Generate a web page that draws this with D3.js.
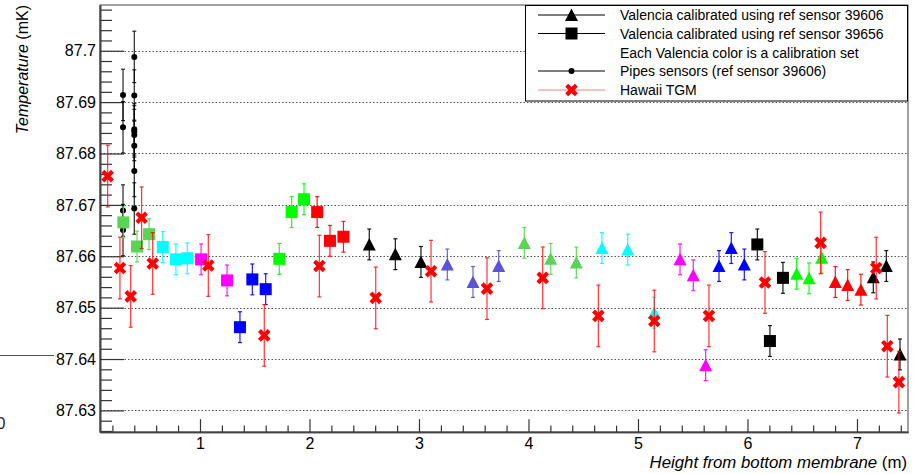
<!DOCTYPE html>
<html>
<head>
<meta charset="utf-8">
<script src="https://cdn.jsdelivr.net/npm/d3@7"></script>
<style>
  html, body { margin: 0; padding: 0; background: #fff; }
  svg { display: block; font-family: "Liberation Sans", Arial, Helvetica, sans-serif; }
</style>
</head>
<body>
<svg id="chart" width="917" height="474"></svg>
<script>
// ---------------- DATA ----------------
// ROOT colour indices used for each calibration set
const rootColors = {1: "#000000", 2: "#ff0000", 3: "#00ff00", 4: "#0000ff", 6: "#ff00ff", 7: "#00ffff", 8: "#59d454", 9: "#5954d8"};

// Valencia calibrated using ref sensor 39656 (squares)
const sqX = [0.30, 0.425, 0.535, 0.66, 0.78, 0.884, 1.01, 1.247, 1.365, 1.478, 1.60, 1.724, 1.837, 1.95, 2.07, 2.187, 2.31, 6.09, 6.205, 6.324];
const sqT = [87.6666, 87.6619, 87.6643, 87.6618, 87.6594, 87.6596, 87.6594, 87.6553, 87.6462, 87.6555, 87.6536, 87.6595, 87.6686, 87.6711, 87.6686, 87.6630, 87.6638, 87.6623, 87.6435, 87.6558];
const sqErr = [0.003, 0.003, 0.003, 0.003, 0.003, 0.003, 0.003, 0.003, 0.003, 0.003, 0.003, 0.003, 0.003, 0.003, 0.003, 0.003, 0.003, 0.003, 0.003, 0.003];
const sqCol = [8, 8, 8, 7, 7, 7, 6, 6, 4, 4, 4, 3, 3, 3, 2, 2, 2, 1, 1, 1];

// Valencia calibrated using ref sensor 39606 (triangles)
const triX = [2.546, 2.784, 3.018, 3.259, 3.493, 3.728, 3.962, 4.203, 4.437, 4.671, 4.906, 5.149, 5.384, 5.505, 5.618, 5.74, 5.852, 5.971, 6.449, 6.562, 6.678, 6.802, 6.915, 7.036, 7.149, 7.268, 7.393];
const triT = [87.6623, 87.6604, 87.6589, 87.6584, 87.6550, 87.6581, 87.6626, 87.6595, 87.6588, 87.6616, 87.6613, 87.6490, 87.6594, 87.6563, 87.6388, 87.6581, 87.6616, 87.6584, 87.6566, 87.6557, 87.6597, 87.6550, 87.6544, 87.6535, 87.6559, 87.6581, 87.6409];
const triErr = [0.003, 0.003, 0.003, 0.003, 0.003, 0.003, 0.003, 0.003, 0.003, 0.003, 0.003, 0.003, 0.003, 0.003, 0.003, 0.003, 0.003, 0.003, 0.003, 0.003, 0.003, 0.003, 0.003, 0.003, 0.003, 0.003, 0.003];
const triCol = [1, 1, 1, 9, 9, 9, 8, 8, 8, 7, 7, 7, 6, 6, 6, 4, 4, 4, 3, 3, 3, 2, 2, 2, 1, 1, 1];

// Pipes sensors (ref sensor 39606)
const pipeX = [0.297, 0.297, 0.297, 0.297, 0.40, 0.40, 0.40, 0.40, 0.40, 0.40, 0.40, 0.40];
const pipeT = [87.6914, 87.6851, 87.6689, 87.6651, 87.6988, 87.6913, 87.6847, 87.6843, 87.6836, 87.6815, 87.6766, 87.6693];
const pipeErr = [0.005, 0.005, 0.005, 0.005, 0.005, 0.005, 0.005, 0.005, 0.005, 0.005, 0.005, 0.005];

// Hawaii TGM
const hawX = [0.157, 0.269, 0.367, 0.467, 0.568, 1.076, 1.587, 2.09, 2.605, 3.11, 3.621, 4.13, 4.638, 5.149, 5.648, 6.16, 6.668, 7.176, 7.277, 7.383];
const hawT = [87.6756, 87.6577, 87.6522, 87.6675, 87.6586, 87.6582, 87.6446, 87.6581, 87.6519, 87.6571, 87.6537, 87.6558, 87.6484, 87.6474, 87.6484, 87.6549, 87.6626, 87.6577, 87.6425, 87.6355];
const hawErr = [0.006, 0.006, 0.006, 0.006, 0.006, 0.006, 0.006, 0.006, 0.006, 0.006, 0.006, 0.006, 0.006, 0.006, 0.006, 0.006, 0.006, 0.006, 0.006, 0.006];

// Axes
const xDomain = [0.0868, 7.466];
const yDomain = [87.6258, 87.7089];
const xTickValues = [1, 2, 3, 4, 5, 6, 7];
const xTickLabels = ["1", "2", "3", "4", "5", "6", "7"];
const yTickValues = [87.63, 87.64, 87.65, 87.66, 87.67, 87.68, 87.69, 87.70];
const yTickLabels = ["87.63", "87.64", "87.65", "87.66", "87.67", "87.68", "87.69", "87.7"];

const legendLabels = [
  "Valencia calibrated using ref sensor 39606",
  "Valencia calibrated using ref sensor 39656",
  "Each Valencia color is a calibration set",
  "Pipes sensors (ref sensor 39606)",
  "Hawaii TGM"
];

// ---------------- DRAW ----------------
const svg = d3.select("#chart");
const L = 100, R = 908, T = 5, B = 432;
const x = d3.scaleLinear().domain(xDomain).range([L, R]);
const y = d3.scaleLinear().domain(yDomain).range([B, T]);

svg.append("rect").attr("width", 917).attr("height", 474).attr("fill", "#fff");

// odd artefacts at the far left of the reference
svg.append("line").attr("x1", 0).attr("x2", 54).attr("y1", 355.5).attr("y2", 355.5)
  .attr("stroke", "#555").attr("stroke-width", 1.2);
svg.append("text").attr("x", 5.5).attr("y", 429).attr("text-anchor", "end")
  .attr("font-size", 16).attr("fill", "#222").text("0");

// grid (dotted, at major y ticks)
svg.append("g").selectAll("line").data(yTickValues).join("line")
  .attr("x1", L).attr("x2", R)
  .attr("y1", d => Math.round(y(d)) + 0.5).attr("y2", d => Math.round(y(d)) + 0.5)
  .attr("stroke", "#555").attr("stroke-width", 1).attr("stroke-dasharray", "1.5,2");

// frame
svg.append("rect").attr("x", L).attr("y", T).attr("width", R - L).attr("height", B - T)
  .attr("fill", "none").attr("stroke", "#444").attr("stroke-width", 1);

// minor ticks
const yMinor = d3.range(87.626, 87.7089, 0.002).filter(v => !yTickValues.some(t => Math.abs(t - v) < 1e-6));
const xMinor = d3.range(0.2, 7.45, 0.2).filter(v => Math.abs(v - Math.round(v)) > 1e-6);

function styleAxis(g) {
  g.selectAll(".domain").attr("stroke", "#444").attr("stroke-width", 1.6);
  g.selectAll(".tick line").attr("stroke", "#333").attr("stroke-width", 1.2);
  g.selectAll("text").attr("fill", "#000").attr("font-size", 16)
    .attr("font-family", "'Liberation Sans', Arial, Helvetica, sans-serif");
}

svg.append("g").attr("transform", `translate(${L},0)`)
  .call(d3.axisLeft(y).tickValues(yMinor).tickFormat("").tickSizeInner(-12).tickSizeOuter(0))
  .call(styleAxis);
svg.append("g").attr("transform", `translate(${L},0)`)
  .call(d3.axisLeft(y).tickValues(yTickValues).tickFormat((d, i) => yTickLabels[i]).tickSizeInner(-24).tickSizeOuter(0).tickPadding(4))
  .call(styleAxis);

svg.append("g").attr("transform", `translate(0,${B})`)
  .call(d3.axisBottom(x).tickValues(xMinor).tickFormat("").tickSizeInner(-6.4).tickSizeOuter(0))
  .call(styleAxis);
svg.append("g").attr("transform", `translate(0,${B})`)
  .call(d3.axisBottom(x).tickValues(xTickValues).tickFormat((d, i) => xTickLabels[i]).tickSizeInner(-12.8).tickSizeOuter(0).tickPadding(6))
  .call(styleAxis);

// axis titles
const yt = svg.append("text").attr("transform", "translate(28,5) rotate(-90)")
  .attr("text-anchor", "end").attr("font-size", 16).attr("fill", "#000");
yt.append("tspan").attr("font-style", "italic").text("Temperature");
yt.append("tspan").text(" (mK)");

const xt = svg.append("text").attr("x", 907).attr("y", 468)
  .attr("text-anchor", "end").attr("font-size", 16.8).attr("fill", "#000");
xt.append("tspan").attr("font-style", "italic").text("Height from bottom membrane");
xt.append("tspan").text(" (m)");

// ---- error bars helper
function errorBars(g, xs, ts, es, colorFn, opacity) {
  const idx = d3.range(xs.length);
  const eb = g.append("g").attr("stroke-opacity", opacity);
  eb.selectAll("line.v").data(idx).join("line").attr("class", "v")
    .attr("x1", i => x(xs[i])).attr("x2", i => x(xs[i]))
    .attr("y1", i => y(ts[i] - es[i])).attr("y2", i => y(ts[i] + es[i]))
    .attr("stroke", colorFn).attr("stroke-width", 1.2);
  [-1, 1].forEach(s => {
    eb.selectAll("line.c" + (s > 0 ? "p" : "m")).data(idx).join("line").attr("class", "c" + (s > 0 ? "p" : "m"))
      .attr("x1", i => x(xs[i]) - 2).attr("x2", i => x(xs[i]) + 2)
      .attr("y1", i => y(ts[i] + s * es[i])).attr("y2", i => y(ts[i] + s * es[i]))
      .attr("stroke", colorFn).attr("stroke-width", 1.2);
  });
}

const dataG = svg.append("g");

// pipes
errorBars(dataG, pipeX, pipeT, pipeErr, () => "#000", 0.85);
dataG.append("g").selectAll("circle").data(d3.range(pipeX.length)).join("circle")
  .attr("cx", i => x(pipeX[i])).attr("cy", i => y(pipeT[i])).attr("r", 3).attr("fill", "#000");

// squares
errorBars(dataG, sqX, sqT, sqErr, i => rootColors[sqCol[i]], 0.9);
dataG.append("g").selectAll("rect").data(d3.range(sqX.length)).join("rect")
  .attr("x", i => x(sqX[i]) - 6).attr("y", i => y(sqT[i]) - 6)
  .attr("width", 12).attr("height", 12)
  .attr("fill", i => rootColors[sqCol[i]]);

// triangles
errorBars(dataG, triX, triT, triErr, i => rootColors[triCol[i]], 0.9);
dataG.append("g").selectAll("path").data(d3.range(triX.length)).join("path")
  .attr("d", i => { const cx = x(triX[i]), cy = y(triT[i]); return `M${cx},${cy - 6.5}L${cx + 6.5},${cy + 6}L${cx - 6.5},${cy + 6}Z`; })
  .attr("fill", i => rootColors[triCol[i]]);

// Hawaii TGM
errorBars(dataG, hawX, hawT, hawErr, () => "#ff0000", 0.8);
function xMark(g, cx, cy) {
  const k = 4.8;
  g.append("path").attr("d", `M${cx - k},${cy - k}L${cx + k},${cy + k}M${cx - k},${cy + k}L${cx + k},${cy - k}`)
    .attr("stroke", "#ff0000").attr("stroke-width", 4.2).attr("fill", "none");
}
const hg = dataG.append("g");
d3.range(hawX.length).forEach(i => xMark(hg, x(hawX[i]), y(hawT[i])));

// ---- legend
const lg = svg.append("g");
lg.append("rect").attr("x", 525.5).attr("y", 5.5).attr("width", 382).attr("height", 95.5)
  .attr("fill", "#fff").attr("stroke", "#000").attr("stroke-width", 1);
const rowsY = [15, 33.5, 52.5, 71, 90];
legendLabels.forEach((t, i) => {
  lg.append("text").attr("x", 620).attr("y", rowsY[i]).attr("dy", "0.36em")
    .attr("font-size", 14).attr("fill", "#000").text(t);
});
const lx1 = 538, lx2 = 605, lc = 571.5;
[0, 1, 3].forEach(i => lg.append("line").attr("x1", lx1).attr("x2", lx2).attr("y1", rowsY[i]).attr("y2", rowsY[i]).attr("stroke", "#000").attr("stroke-width", 1));
lg.append("line").attr("x1", lx1).attr("x2", lx2).attr("y1", rowsY[4]).attr("y2", rowsY[4]).attr("stroke", "#ff8080").attr("stroke-width", 1.2);
lg.append("path").attr("d", `M${lc},${rowsY[0] - 6.5}L${lc + 6.5},${rowsY[0] + 6}L${lc - 6.5},${rowsY[0] + 6}Z`).attr("fill", "#000");
lg.append("rect").attr("x", lc - 6).attr("y", rowsY[1] - 6).attr("width", 12).attr("height", 12).attr("fill", "#000");
lg.append("circle").attr("cx", lc).attr("cy", rowsY[3]).attr("r", 3).attr("fill", "#000");
xMark(lg, lc, rowsY[4]);
</script>
</body>
</html>
